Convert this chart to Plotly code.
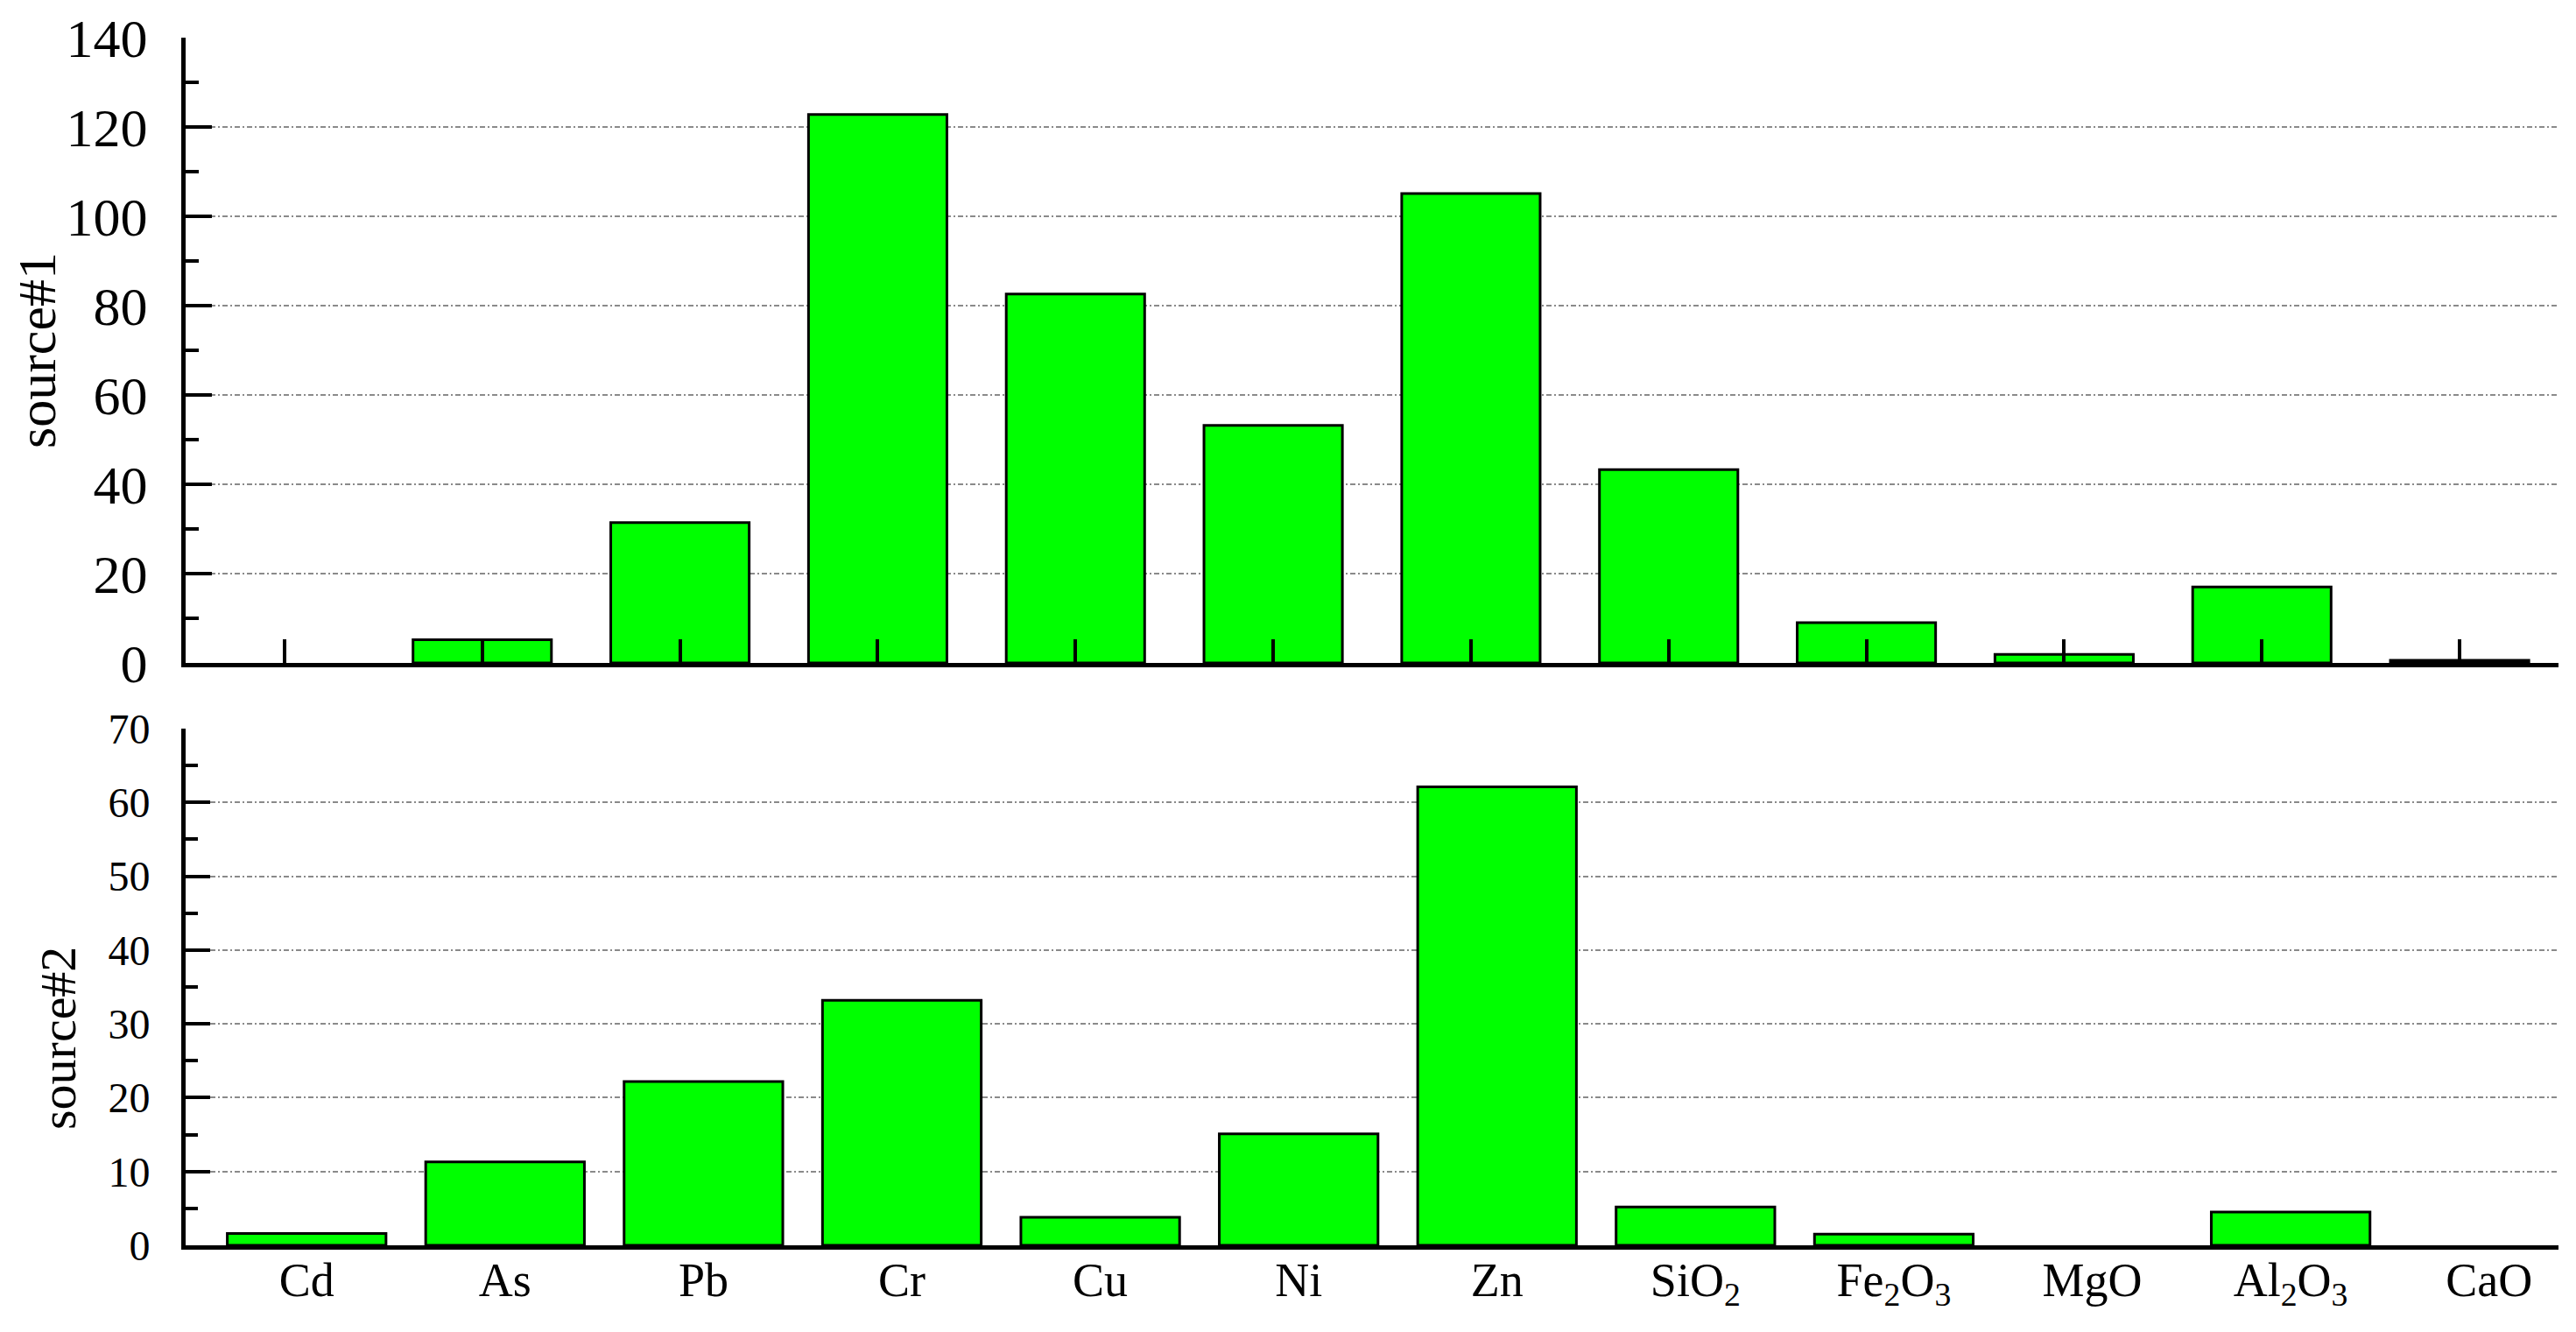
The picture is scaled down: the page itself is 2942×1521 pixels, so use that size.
import plotly.graph_objects as go

categories = ["Cd", "As", "Pb", "Cr", "Cu", "Ni", "Zn",
              "SiO<sub>2</sub>", "Fe<sub>2</sub>O<sub>3</sub>", "MgO",
              "Al<sub>2</sub>O<sub>3</sub>", "CaO"]
source1 = [0, 5.2, 31.4, 122.8, 82.6, 53.2, 105.1, 43.3, 9.0, 1.9, 17.0, 0.6]
source2 = [1.6, 11.3, 22.2, 33.2, 3.8, 15.1, 62.1, 5.2, 1.5, 0, 4.5, 0]
y1_ticks = [0, 20, 40, 60, 80, 100, 120, 140]
y1_grid = [20, 40, 60, 80, 100, 120]
y2_ticks = [0, 10, 20, 30, 40, 50, 60, 70]
y2_grid = [10, 20, 30, 40, 50, 60]

FONT = "Liberation Serif, Times New Roman, serif"
GREEN = "#00FF00"
# page body has an 8px margin on every side
W, H = 2942 - 16, 1521 - 16
OFF = 8
L = 212 - OFF
R = W - (2922 - OFF)
PW = W - L - R


def outline_widths(values):
    # no outline for empty (zero) bars
    return [0 if v == 0 else 3 for v in values]


fig = go.Figure()
fig.add_trace(go.Bar(x=categories, y=source1, xaxis="x", yaxis="y", width=0.70,
                     marker=dict(color=GREEN, line=dict(color="black", width=outline_widths(source1))),
                     showlegend=False))
fig.add_trace(go.Bar(x=categories, y=source2, xaxis="x2", yaxis="y2", width=0.80,
                     marker=dict(color=GREEN, line=dict(color="black", width=outline_widths(source2))),
                     showlegend=False))
# empty traces to host the grid-only overlay axes
fig.add_trace(go.Scatter(x=[], y=[], xaxis="x", yaxis="y3", showlegend=False))
fig.add_trace(go.Scatter(x=[], y=[], xaxis="x2", yaxis="y4", showlegend=False))

grid_style = dict(showgrid=True, gridcolor="#8a8a8a", gridwidth=2, griddash="6px,3px,2px,3px",
                  showticklabels=False, ticks="", showline=False, zeroline=False, automargin=False)

top_dom = [1 - (757 - OFF) / H, 1 - (43 - OFF) / H]
bot_dom = [1 - (1422 - OFF) / H, 1 - (832 - OFF) / H]

fig.update_layout(
    template="none",
    width=W, height=H,
    margin=dict(l=L, r=R, t=0, b=0, autoexpand=False),
    paper_bgcolor="white", plot_bgcolor="white",
    font=dict(family=FONT, color="black"),
    xaxis=dict(domain=[0, 1], anchor="y", type="category", categoryorder="array",
               categoryarray=categories, range=[-0.5, 11.5], automargin=False,
               showline=True, linecolor="black", linewidth=5,
               ticks="inside", ticklen=27, tickwidth=4, tickcolor="black",
               showticklabels=False, showgrid=False, zeroline=False),
    yaxis=dict(domain=top_dom, anchor="x", range=[0, 140], tickvals=y1_ticks, automargin=False,
               showline=True, linecolor="black", linewidth=5,
               ticks="inside", ticklen=30, tickwidth=4, tickcolor="black",
               minor=dict(ticks="inside", ticklen=15, tickwidth=4, tickcolor="black", dtick=10, showgrid=False),
               showgrid=False, zeroline=False,
               tickfont=dict(family=FONT, size=62), ticklabelstandoff=26,
               title=dict(text="source#1", font=dict(family=FONT, size=62), standoff=10)),
    yaxis3=dict(overlaying="y", anchor="x", range=[0, 140], tickvals=y1_grid, **grid_style),
    xaxis2=dict(domain=[0, 1], anchor="y2", type="category", categoryorder="array",
                categoryarray=categories, range=[-0.61, 11.35], automargin=False,
                showline=True, linecolor="black", linewidth=5,
                ticks="", showgrid=False, zeroline=False,
                tickfont=dict(family=FONT, size=54), ticklabelstandoff=-12),
    yaxis2=dict(domain=bot_dom, anchor="x2", range=[0, 70], tickvals=y2_ticks, automargin=False,
                showline=True, linecolor="black", linewidth=5,
                ticks="inside", ticklen=28, tickwidth=4, tickcolor="black",
                minor=dict(ticks="inside", ticklen=14, tickwidth=4, tickcolor="black", dtick=5, showgrid=False),
                showgrid=False, zeroline=False,
                tickfont=dict(family=FONT, size=48), ticklabelstandoff=26),
    yaxis4=dict(overlaying="y2", anchor="x2", range=[0, 70], tickvals=y2_grid, **grid_style),
    annotations=[dict(text="source#2", textangle=-90, showarrow=False,
                      xref="paper", yref="paper",
                      x=(66 - OFF - L) / PW, y=1 - (1186 - OFF) / H,
                      xanchor="center", yanchor="middle",
                      font=dict(family=FONT, size=58, color="black"))],
)

fig.write_html("out.html")
